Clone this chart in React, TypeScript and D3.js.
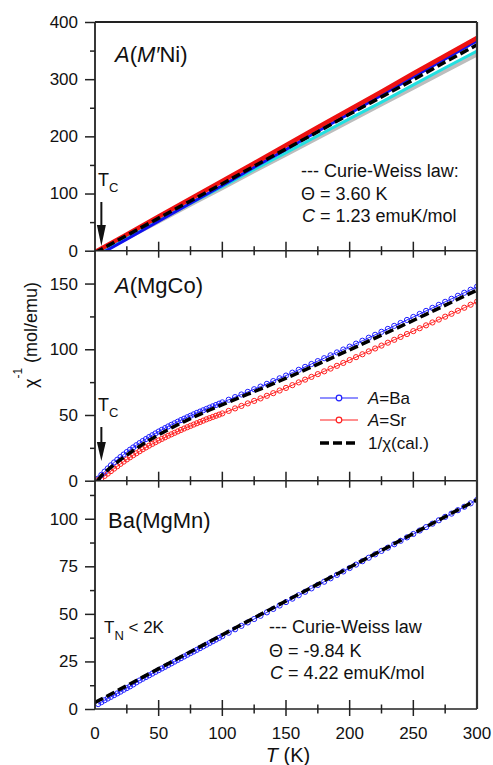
import React, { useEffect, useRef } from 'react';
import * as d3 from 'd3';

const W = 493;
const H = 765;
const FONT = '"Liberation Sans", Arial, sans-serif';

// top panel A(M'Ni): read every 25 K
const niT = [0, 25, 50, 75, 100, 125, 150, 175, 200, 225, 250, 275, 300];
const niRed = [-2.5, 28.6, 59.8, 90.9, 122, 153, 184.5, 216, 247, 278, 310, 341, 372];
const niBlue = [-11, 20, 51.5, 83, 114, 146, 177, 209, 240, 272, 304, 335.5, 367];
const niCyan = [-6, 23.7, 53, 82.8, 112, 142, 171.6, 201, 231, 260, 290, 320, 349];
const niGray = [-6.5, 23, 52, 81.5, 110.5, 140, 169, 198.5, 227.5, 257, 286, 315, 344];
const niFit = [-3.6, 26.7, 57, 87, 117, 148, 178, 208, 239, 269, 299, 330, 360];

// measured sweep (middle + bottom panels)
const sweepT = [
  2.5, 5, 7.5, 10, 12.5, 15, 17.5, 20, 22.5, 25, 27.5, 30, 32.5, 35, 37.5, 40, 42.5, 45, 47.5, 50,
  52.5, 55, 57.5, 60, 62.5, 65, 67.5, 70, 72.5, 75, 77.5, 80, 82.5, 85, 87.5, 90, 92.5, 95, 97.5, 100,
  105, 110, 115, 120, 125, 130, 135, 140, 145, 150, 155, 160, 165, 170, 175, 180, 185, 190, 195, 200,
  205, 210, 215, 220, 225, 230, 235, 240, 245, 250, 255, 260, 265, 270, 275, 280, 285, 290, 295, 300,
];
const coBa = [
  1.6, 4.4, 6.9, 9.3, 11.7, 13.9, 16.0, 18.0, 19.9, 21.8, 23.6, 25.3, 27.0, 28.6, 30.2, 31.7, 33.2, 34.6, 36.0, 37.4,
  38.7, 40.0, 41.3, 42.5, 43.7, 44.9, 46.1, 47.2, 48.3, 49.4, 50.5, 51.6, 52.6, 53.6, 54.6, 55.6, 56.6, 57.6, 58.6, 59.6,
  61.6, 63.6, 65.6, 67.6, 69.6, 71.6, 73.7, 75.8, 77.9, 80, 82.2, 84.4, 86.6, 88.8, 91, 93.2, 95.4, 97.6, 99.8, 102,
  104.3, 106.5, 108.8, 111, 113.3, 115.5, 117.8, 120, 122.3, 124.6, 126.9, 129.2, 131.5, 133.8, 136.1, 138.4, 140.7, 143, 145.3, 147.6,
];
const coSr = [
  0.5, 1.8, 3.6, 5.4, 7.3, 9.2, 11.0, 12.8, 14.5, 16.2, 17.8, 19.4, 20.9, 22.4, 23.9, 25.3, 26.7, 28.0, 29.3, 30.6,
  31.8, 33.0, 34.2, 35.3, 36.4, 37.5, 38.6, 39.7, 40.7, 41.7, 42.7, 43.7, 44.7, 45.7, 46.7, 47.6, 48.5, 49.4, 50.3, 51.2,
  53.1, 55.0, 56.9, 58.8, 60.7, 62.6, 64.6, 66.6, 68.6, 70.6, 72.7, 74.8, 76.9, 79, 81.1, 83.2, 85.3, 87.4, 89.6, 91.8,
  94, 96.2, 98.4, 100.6, 102.8, 105, 107.2, 109.4, 111.6, 113.8, 116, 118.2, 120.4, 122.6, 124.8, 127, 129.3, 131.6, 133.9, 136.2,
];
const coFitT = [2, 5, 10, 20, 30, 40, 50, 60, 70, 80, 90, 100, 120, 140, 160, 180, 200, 220, 240, 260, 280, 300];
const coFit = [0, 3.8, 8.2, 16, 23, 29.3, 35, 40.2, 45, 49.5, 53.8, 57.8, 65.8, 73.8, 82.2, 90.8, 99.6, 108.5, 117.4, 126.6, 135.8, 145];

const mnBa = [
  2.6, 3.6, 4.6, 5.5, 6.4, 7.3, 8.2, 9.1, 10.1, 11.0, 11.9, 12.9, 14.0, 15.0, 15.9, 16.8, 17.7, 18.6, 19.5, 20.4,
  21.3, 22.2, 23.1, 24.0, 24.9, 25.8, 26.7, 27.6, 28.5, 29.4, 30.2, 31.1, 32.0, 32.9, 33.8, 34.7, 35.6, 36.5, 37.4, 38.3,
  40.1, 41.9, 43.7, 45.5, 47.3, 49.0, 50.8, 52.6, 54.4, 56.2, 58.0, 59.8, 61.6, 63.4, 65.2, 66.9, 68.7, 70.5, 72.3, 74.1,
  75.9, 77.7, 79.5, 81.3, 83.1, 84.8, 86.6, 88.4, 90.2, 92.0, 93.8, 95.6, 97.4, 99.2, 101.0, 102.7, 104.5, 106.3, 108.1, 109.9,
];
const mnFitT = [0, 50, 100, 150, 200, 250, 300];
const mnFit = [3.4, 21.2, 39, 56.8, 74.5, 92.2, 110];

// ticks
const tMajor = [0, 50, 100, 150, 200, 250, 300];
const tMinor = [25, 75, 125, 175, 225, 275];
const niMajor = [0, 100, 200, 300, 400];
const niMinor = [50, 150, 250, 350];
const coMajor = [0, 50, 100, 150];
const coMinor = [25, 75, 125];
const mnMajor = [0, 25, 50, 75, 100];
const mnMinor = [12.5, 37.5, 62.5, 87.5, 112.5];

type Part = { t: string; i?: boolean; size?: number; dy?: number };

function rich(parent: any, px: number, py: number, size: number, parts: Part[], anchor = 'start') {
  const txt = parent.append('text')
    .attr('x', px).attr('y', py)
    .attr('font-family', FONT).attr('font-size', size)
    .attr('text-anchor', anchor).attr('fill', '#111');
  parts.forEach((p) => {
    const s = txt.append('tspan').text(p.t);
    if (p.i) s.attr('font-style', 'italic');
    if (p.size) s.attr('font-size', p.size);
    if (p.dy) s.attr('dy', p.dy);
  });
  return txt;
}

const zip = (ts: number[], vs: number[]) => ts.map((t, i) => [t, vs[i]] as [number, number]);

export default function App() {
  const ref = useRef<SVGSVGElement>(null);

  useEffect(() => {
    const svg = d3.select(ref.current);
    svg.selectAll('*').remove();

    const x = d3.scaleLinear().domain([0, 300]).range([95, 477]);
    const yNi = d3.scaleLinear().domain([0, 400]).range([250.7, 22]);
    const yCo = d3.scaleLinear().domain([0, 175]).range([480.7, 250.7]);
    const yMn = d3.scaleLinear().domain([0, 120]).range([709, 480.7]);

    const defs = svg.append('defs');
    const panels = [
      { id: 'ni', y: yNi, major: niMajor, minor: niMinor },
      { id: 'co', y: yCo, major: coMajor, minor: coMinor },
      { id: 'mn', y: yMn, major: mnMajor, minor: mnMinor },
    ];
    panels.forEach((p) => {
      const [y0, y1] = p.y.range();
      defs.append('clipPath').attr('id', 'clip-' + p.id)
        .append('rect')
        .attr('x', x(0)).attr('y', y1)
        .attr('width', x(300) - x(0)).attr('height', y0 - y1);
    });

    const lineFor = (y: any) => d3.line<[number, number]>().x((d) => x(d[0])).y((d) => y(d[1]));

    // ---- top panel
    const gNi = svg.append('g').attr('clip-path', 'url(#clip-ni)');
    const ln = lineFor(yNi);
    const niSeries = [
      { v: niGray, c: '#bdbdbd', w: 5 },
      { v: niCyan, c: '#22e0e0', w: 3 },
      { v: niBlue, c: '#1010f0', w: 3 },
      { v: niRed, c: '#ee1111', w: 4.5 },
    ];
    niSeries.forEach((s) => {
      gNi.append('path').attr('d', ln(zip(niT, s.v)))
        .attr('fill', 'none').attr('stroke', s.c).attr('stroke-width', s.w);
    });
    gNi.append('path').attr('d', ln(zip(niT, niFit)))
      .attr('fill', 'none').attr('stroke', '#000').attr('stroke-width', 3.5)
      .attr('stroke-dasharray', '9,4');

    // ---- middle panel
    const gCo = svg.append('g').attr('clip-path', 'url(#clip-co)');
    const lc = lineFor(yCo);
    const coSeries = [
      { v: coSr, c: '#ff2020' },
      { v: coBa, c: '#2020ff' },
    ];
    coSeries.forEach((s) => {
      const pts = zip(sweepT, s.v);
      gCo.append('path').attr('d', lc(pts))
        .attr('fill', 'none').attr('stroke', s.c).attr('stroke-width', 1);
      gCo.selectAll(null).data(pts).enter().append('circle')
        .attr('cx', (d) => x(d[0])).attr('cy', (d) => yCo(d[1]))
        .attr('r', 2.6).attr('fill', 'none')
        .attr('stroke', s.c).attr('stroke-width', 1);
    });
    gCo.append('path').attr('d', lc(zip(coFitT, coFit)))
      .attr('fill', 'none').attr('stroke', '#000').attr('stroke-width', 3.5)
      .attr('stroke-dasharray', '9,4');

    // ---- bottom panel
    const gMn = svg.append('g').attr('clip-path', 'url(#clip-mn)');
    const lm = lineFor(yMn);
    const mnPts = zip(sweepT, mnBa);
    gMn.append('path').attr('d', lm(mnPts))
      .attr('fill', 'none').attr('stroke', '#2020ff').attr('stroke-width', 1);
    gMn.selectAll(null).data(mnPts).enter().append('circle')
      .attr('cx', (d) => x(d[0])).attr('cy', (d) => yMn(d[1]))
      .attr('r', 2.6).attr('fill', 'none')
      .attr('stroke', '#2020ff').attr('stroke-width', 1);
    gMn.append('path').attr('d', lm(zip(mnFitT, mnFit)))
      .attr('fill', 'none').attr('stroke', '#000').attr('stroke-width', 3.5)
      .attr('stroke-dasharray', '9,4');

    // ---- axes
    panels.forEach((p) => {
      const gMaj = svg.append('g').attr('transform', `translate(${x(0)},0)`)
        .call(d3.axisLeft(p.y).tickValues(p.major).tickSize(10).tickPadding(7).tickFormat(d3.format('d')));
      gMaj.select('.domain').remove();
      gMaj.selectAll('line').attr('stroke', '#222').attr('stroke-width', 1.5);
      gMaj.selectAll('text').attr('font-family', FONT).attr('font-size', 17).attr('fill', '#111');

      const gMin = svg.append('g').attr('transform', `translate(${x(0)},0)`)
        .call(d3.axisLeft(p.y).tickValues(p.minor).tickSize(5).tickFormat(() => ''));
      gMin.select('.domain').remove();
      gMin.selectAll('line').attr('stroke', '#222').attr('stroke-width', 1.5);

      const base = p.y(0);
      svg.append('line').attr('x1', x(0)).attr('x2', x(300)).attr('y1', base).attr('y2', base)
        .attr('stroke', '#222').attr('stroke-width', 1.6);
      svg.append('g').selectAll('line').data(tMajor.slice(1, -1)).enter().append('line')
        .attr('x1', (d) => x(d)).attr('x2', (d) => x(d))
        .attr('y1', base - 9).attr('y2', base + 7)
        .attr('stroke', '#222').attr('stroke-width', 1.5);
      svg.append('g').selectAll('line').data(tMinor).enter().append('line')
        .attr('x1', (d) => x(d)).attr('x2', (d) => x(d))
        .attr('y1', base - 4.5).attr('y2', base + 4.5)
        .attr('stroke', '#222').attr('stroke-width', 1.5);
    });

    // frame
    svg.append('line').attr('x1', x(0)).attr('x2', x(0)).attr('y1', yNi(400)).attr('y2', yMn(0))
      .attr('stroke', '#222').attr('stroke-width', 1.8);
    svg.append('line').attr('x1', x(0)).attr('x2', x(300)).attr('y1', yNi(400)).attr('y2', yNi(400))
      .attr('stroke', '#222').attr('stroke-width', 1.8);
    svg.append('line').attr('x1', x(300)).attr('x2', x(300)).attr('y1', yNi(400)).attr('y2', yMn(0))
      .attr('stroke', '#333').attr('stroke-width', 2.2);

    // x tick labels
    svg.append('g').selectAll('text').data(tMajor).enter().append('text')
      .attr('x', (d) => x(d)).attr('y', 739)
      .attr('text-anchor', 'middle').attr('font-family', FONT).attr('font-size', 17).attr('fill', '#111')
      .text((d) => String(d));

    rich(svg, (x(0) + x(300)) / 2 + 2, 762, 20, [{ t: 'T', i: true }, { t: ' (K)' }], 'middle');

    const yl = svg.append('g').attr('transform', 'translate(37,335) rotate(-90)');
    rich(yl, 0, 0, 18, [{ t: 'χ' }, { t: '-1', size: 12, dy: -15 }, { t: ' (mol/emu)', dy: 15 }], 'middle');

    // panel names
    rich(svg, 115, 62, 22, [{ t: 'A', i: true }, { t: '(' }, { t: 'M', i: true }, { t: '′', i: true }, { t: 'Ni)' }]);
    rich(svg, 115, 293, 22, [{ t: 'A', i: true }, { t: '(MgCo)' }]);
    rich(svg, 108, 528, 22, [{ t: 'Ba(MgMn)' }]);

    // T_C markers
    const arrow = (xa: number, top: number, tip: number, head: number) => {
      svg.append('line').attr('x1', xa).attr('x2', xa).attr('y1', top).attr('y2', tip - head + 2)
        .attr('stroke', '#111').attr('stroke-width', 2);
      svg.append('path')
        .attr('d', `M${xa - 4.5},${tip - head} L${xa + 4.5},${tip - head} L${xa},${tip} Z`)
        .attr('fill', '#111');
    };
    rich(svg, 98, 186, 18, [{ t: 'T' }, { t: 'C', size: 13, dy: 6 }]);
    arrow(x(5), 202, 246, 21);
    rich(svg, 98, 411, 18, [{ t: 'T' }, { t: 'C', size: 13, dy: 6 }]);
    arrow(x(5), 427, 461, 19);
    rich(svg, 104, 633, 17, [{ t: 'T' }, { t: 'N', size: 13, dy: 7 }, { t: ' < 2K', dy: -7 }]);

    // Curie-Weiss notes
    rich(svg, 301, 177, 18, [{ t: '--- Curie-Weiss law:' }]);
    rich(svg, 301, 200, 18, [{ t: 'Θ = 3.60 K' }]);
    rich(svg, 302, 222, 18, [{ t: 'C', i: true }, { t: ' = 1.23 emuK/mol' }]);
    rich(svg, 269, 633, 18, [{ t: '--- Curie-Weiss law' }]);
    rich(svg, 269, 657, 18, [{ t: 'Θ = -9.84 K' }]);
    rich(svg, 270, 679, 18, [{ t: 'C', i: true }, { t: ' = 4.22 emuK/mol' }]);

    // legend
    const legend = [
      { y: 398, c: '#2020ff', label: 'Ba', dash: false },
      { y: 420, c: '#ff2020', label: 'Sr', dash: false },
      { y: 443, c: '#000', label: '', dash: true },
    ];
    legend.forEach((l) => {
      if (l.dash) {
        svg.append('line').attr('x1', 320).attr('x2', 358).attr('y1', l.y).attr('y2', l.y)
          .attr('stroke', '#000').attr('stroke-width', 3.5).attr('stroke-dasharray', '9,4');
        rich(svg, 368, l.y + 6, 17, [{ t: '1/χ(cal.)' }]);
      } else {
        svg.append('line').attr('x1', 320).attr('x2', 358).attr('y1', l.y).attr('y2', l.y)
          .attr('stroke', l.c).attr('stroke-width', 1.2);
        svg.append('circle').attr('cx', 339).attr('cy', l.y).attr('r', 2.8)
          .attr('fill', '#fff').attr('stroke', l.c).attr('stroke-width', 1.2);
        rich(svg, 368, l.y + 6, 17, [{ t: 'A', i: true }, { t: '=' + l.label }]);
      }
    });
  }, []);

  return (
    <svg ref={ref} width={W} height={H}
      style={{ position: 'absolute', left: 0, top: 0, background: '#fff' }} />
  );
}
